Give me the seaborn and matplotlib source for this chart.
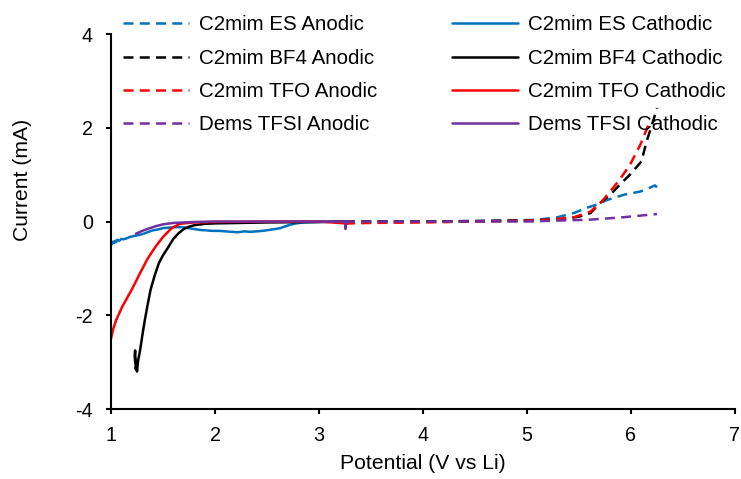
import numpy as np
import pandas as pd
import matplotlib
matplotlib.use("Agg")
import matplotlib.pyplot as plt
import seaborn as sns

# ---- data: potential (V vs Li) and current (mA) ----
es_cat_v = [3.25, 3.0, 2.85, 2.78, 2.72, 2.68, 2.63, 2.58, 2.52, 2.46, 2.40, 2.34, 2.28, 2.22, 2.16,
            2.10, 2.04, 1.98, 1.92, 1.86, 1.80, 1.74, 1.68, 1.62, 1.56, 1.50, 1.45, 1.40, 1.35,
            1.30, 1.26, 1.22, 1.18, 1.15, 1.12, 1.10, 1.08, 1.06, 1.05, 1.04, 1.03, 1.02, 1.01, 1.00]
es_cat_i = [0.00, -0.01, -0.02, -0.04, -0.07, -0.10, -0.14, -0.16, -0.18, -0.20, -0.21, -0.22, -0.21, -0.23, -0.22,
            -0.21, -0.20, -0.20, -0.19, -0.18, -0.16, -0.14, -0.12, -0.12, -0.13, -0.14, -0.17, -0.19, -0.23,
            -0.27, -0.29, -0.31, -0.33, -0.36, -0.38, -0.37, -0.41, -0.39, -0.44, -0.41, -0.46, -0.43, -0.48, -0.45]

bf4_cat_v = [3.25, 3.0, 2.5, 2.0, 1.9, 1.8, 1.75, 1.70, 1.65, 1.60, 1.55, 1.50, 1.46, 1.42, 1.38,
             1.35, 1.32, 1.30, 1.28, 1.26, 1.25, 1.245, 1.238, 1.232, 1.228, 1.232]
bf4_cat_i = [0.00, -0.01, -0.02, -0.04, -0.05, -0.08, -0.11, -0.16, -0.25, -0.37, -0.55, -0.72, -0.89, -1.15, -1.46,
             -1.80, -2.17, -2.45, -2.74, -2.98, -3.20, -3.05, -3.15, -2.75, -2.85, -3.00]

tfo_cat_v = [3.25, 3.0, 2.5, 2.0, 1.8, 1.70, 1.66, 1.60, 1.57, 1.50, 1.43, 1.35, 1.28, 1.20, 1.11,
             1.05, 1.02, 1.00]
tfo_cat_i = [-0.04, 0.00, 0.00, -0.01, -0.02, -0.04, -0.05, -0.12, -0.17, -0.33, -0.53, -0.80, -1.10, -1.45, -1.81,
             -2.10, -2.30, -2.50]

dems_cat_v = [3.26, 3.255, 3.25, 3.0, 2.5, 2.0, 1.8, 1.7, 1.6, 1.5, 1.43, 1.35, 1.30, 1.24]
dems_cat_i = [0.00, -0.16, 0.00, 0.00, 0.00, 0.00, -0.01, -0.02, -0.03, -0.06, -0.10, -0.16, -0.20, -0.26]

es_an_v = [3.25, 4.0, 4.5, 5.0, 5.12, 5.29, 5.45, 5.57, 5.67, 5.77, 5.93, 6.09, 6.15, 6.21, 6.23, 6.25]
es_an_i = [0.00, 0.00, 0.01, 0.03, 0.04, 0.09, 0.18, 0.29, 0.36, 0.46, 0.57, 0.64, 0.69, 0.75, 0.77, 0.73]

bf4_an_v = [3.25, 4.0, 5.0, 5.2, 5.38, 5.51, 5.61, 5.70, 5.80, 5.89, 5.99, 6.10, 6.15, 6.20, 6.25]
bf4_an_i = [0.00, 0.00, 0.02, 0.04, 0.06, 0.11, 0.18, 0.39, 0.57, 0.78, 1.00, 1.28, 1.71, 2.05, 2.42]

tfo_an_v = [3.25, 3.3, 3.5, 4.0, 4.5, 5.0, 5.22, 5.45, 5.61, 5.72, 5.80, 5.89, 5.99, 6.09, 6.18]
tfo_an_i = [-0.05, -0.04, -0.03, -0.02, 0.00, 0.02, 0.04, 0.09, 0.21, 0.43, 0.64, 0.89, 1.21, 1.64, 2.13]

dems_an_v = [3.25, 4.0, 5.0, 5.29, 5.61, 5.92, 6.25]
dems_an_i = [0.00, 0.00, 0.00, 0.02, 0.04, 0.09, 0.16]

x_ticks = [1, 2, 3, 4, 5, 6, 7]
y_ticks = [-4, -2, 0, 2, 4]

# ---- style ----
sns.set_theme(style="ticks")
plt.rcParams["font.family"] = ["Liberation Sans", "DejaVu Sans"]
plt.rcParams["font.size"] = 14.5
plt.rcParams["axes.unicode_minus"] = False
for key in ("text.color", "axes.labelcolor", "xtick.color", "ytick.color", "axes.edgecolor"):
    plt.rcParams[key] = "black"

BLUE, BLACK, RED, PURPLE = "#0070C0", "#000000", "#FF0000", "#7030A0"

series = [
    ("C2mim ES Anodic", es_an_v, es_an_i, BLUE, True),
    ("C2mim ES Cathodic", es_cat_v, es_cat_i, BLUE, False),
    ("C2mim BF4 Anodic", bf4_an_v, bf4_an_i, BLACK, True),
    ("C2mim BF4 Cathodic", bf4_cat_v, bf4_cat_i, BLACK, False),
    ("C2mim TFO Anodic", tfo_an_v, tfo_an_i, RED, True),
    ("C2mim TFO Cathodic", tfo_cat_v, tfo_cat_i, RED, False),
    ("Dems TFSI Anodic", dems_an_v, dems_an_i, PURPLE, True),
    ("Dems TFSI Cathodic", dems_cat_v, dems_cat_i, PURPLE, False),
]

fig = plt.figure(figsize=(7.41, 4.79), dpi=100)
ax = fig.add_axes([0.1498, 0.1461, 0.9919 - 0.1498, 0.929 - 0.1461])

handles = {}
for name, v, i, color, dashed in series:
    df = pd.DataFrame({"Potential": v, "Current": i})
    sns.lineplot(data=df, x="Potential", y="Current", ax=ax, sort=False, estimator=None,
                 color=color, linewidth=1.8, label=name)
    line = ax.get_lines()[-1]
    if dashed:
        line.set_dashes([4.0, 2.5])
    handles[name] = line

ax.set_xlim(1, 7)
ax.set_ylim(-4, 4)
ax.set_xticks(x_ticks)
ax.set_yticks(y_ticks)
ax.set_xlabel("Potential (V vs Li)", fontsize=15.2)
ax.set_ylabel("Current (mA)", fontsize=15.2)
ax.xaxis.set_label_coords(0.5, -0.12)
ax.yaxis.set_label_coords(-0.1266, 0.611)
ax.tick_params(axis="both", direction="out", length=3.6, width=1.5, labelsize=14.2,
               colors="black")
ax.tick_params(axis="x", pad=8.5)
ax.tick_params(axis="y", pad=9.5)
for side in ("top", "right"):
    ax.spines[side].set_visible(False)
for side in ("left", "bottom"):
    ax.spines[side].set_linewidth(1.5)
    ax.spines[side].set_color("black")

ax.get_legend().remove()
order = ["C2mim ES Anodic", "C2mim BF4 Anodic", "C2mim TFO Anodic", "Dems TFSI Anodic",
         "C2mim ES Cathodic", "C2mim BF4 Cathodic", "C2mim TFO Cathodic", "Dems TFSI Cathodic"]
fig.legend([handles[n] for n in order], order, ncol=2, frameon=False,
           loc="upper left", bbox_to_anchor=(123 / 741, 0.968), borderaxespad=0, borderpad=0,
           handlelength=3.2, handletextpad=0.5, columnspacing=3.65, labelspacing=0.70,
           fontsize=14.8)

fig.savefig("out.png", dpi=100)
